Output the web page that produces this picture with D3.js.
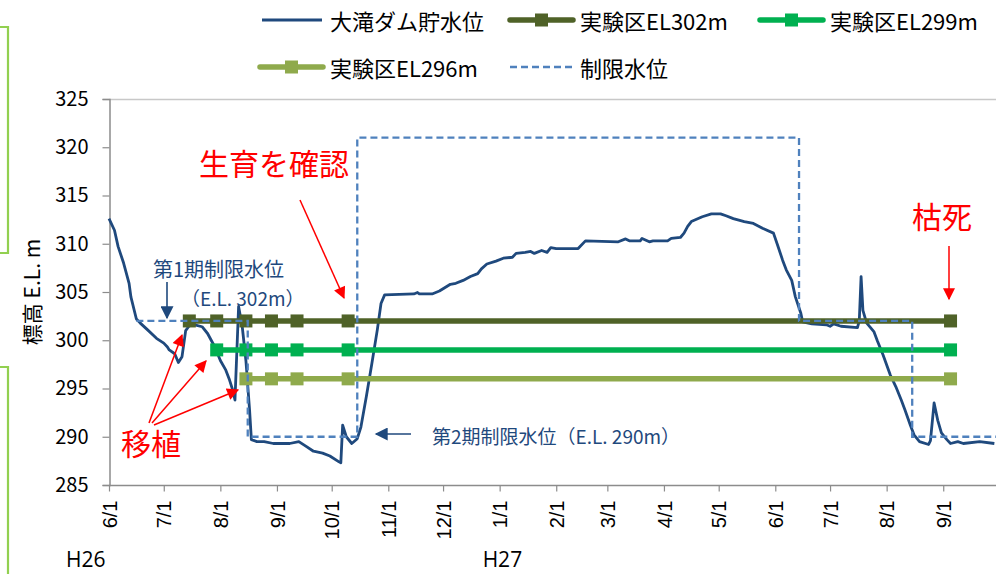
<!DOCTYPE html>
<html><head><meta charset="utf-8">
<script src="https://cdn.jsdelivr.net/npm/d3@7"></script>
<style>
html,body{margin:0;padding:0;background:#fff;}
svg{display:block;font-family:"Noto Sans CJK JP","Noto Sans",sans-serif;}
</style></head>
<body>
<svg id="chart" width="996" height="574"></svg>
<script>
// ---------- data ----------
const monthTicks = ["2014-06-01","2014-07-01","2014-08-01","2014-09-01","2014-10-01","2014-11-01","2014-12-01","2015-01-01","2015-02-01","2015-03-01","2015-04-01","2015-05-01","2015-06-01","2015-07-01","2015-08-01","2015-09-01"];
const monthLabels = ["6/1","7/1","8/1","9/1","10/1","11/1","12/1","1/1","2/1","3/1","4/1","5/1","6/1","7/1","8/1","9/1"];
const yTicks = [285,290,295,300,305,310,315,320,325];
const eraLabels = [["H26","2014-06-01"],["H27","2015-01-01"]];

const seriesNames = ["大滝ダム貯水位","実験区EL302m","実験区EL299m","実験区EL296m","制限水位"];

// 大滝ダム貯水位 [date, EL m]
const waterLevel = [
["2014-06-01",312.6],["2014-06-04",311.4],["2014-06-06",309.7],["2014-06-09",308.0],["2014-06-12",305.9],
["2014-06-13",304.5],["2014-06-16",302.2],["2014-06-18",301.8],["2014-06-22",301.1],["2014-06-27",300.2],
["2014-07-01",299.7],["2014-07-03",299.3],["2014-07-04",299.0],["2014-07-07",298.6],["2014-07-09",297.7],
["2014-07-11",298.3],["2014-07-13",301.0],["2014-07-15",301.5],["2014-07-18",301.6],["2014-07-22",301.4],
["2014-07-25",300.7],["2014-07-29",299.3],["2014-08-01",297.9],["2014-08-04",296.9],["2014-08-06",295.9],
["2014-08-08",294.7],["2014-08-09",293.8],["2014-08-11",303.5],["2014-08-13",301.4],["2014-08-15",297.9],
["2014-08-17",292.8],["2014-08-18",289.7],["2014-08-21",289.5],["2014-08-25",289.5],["2014-08-30",289.3],
["2014-09-08",289.3],["2014-09-13",289.5],["2014-09-17",289.0],["2014-09-21",288.5],["2014-09-26",288.3],
["2014-09-30",288.0],["2014-10-05",287.4],["2014-10-06",287.3],["2014-10-07",291.2],["2014-10-09",290.0],
["2014-10-12",289.3],["2014-10-15",289.8],["2014-10-17",291.0],["2014-10-20",294.2],["2014-10-23",297.6],
["2014-10-26",301.1],["2014-10-28",303.8],["2014-10-30",304.7],["2014-11-15",304.8],["2014-11-17",304.95],
["2014-11-18",304.8],["2014-11-25",304.8],["2014-11-29",305.1],["2014-12-05",305.8],["2014-12-08",305.9],
["2014-12-12",306.2],["2014-12-16",306.6],["2014-12-20",306.9],["2014-12-22",307.4],["2014-12-25",307.9],
["2014-12-30",308.2],["2015-01-03",308.5],["2015-01-08",308.6],["2015-01-10",309.0],["2015-01-15",309.1],
["2015-01-18",309.2],["2015-01-20",309.0],["2015-01-24",309.3],["2015-01-27",309.1],["2015-01-29",309.6],
["2015-02-01",309.5],["2015-02-13",309.5],["2015-02-17",310.3],["2015-03-07",310.2],["2015-03-11",310.5],
["2015-03-13",310.3],["2015-03-19",310.3],["2015-03-20",310.55],["2015-03-24",310.2],["2015-03-26",310.3],
["2015-04-03",310.3],["2015-04-05",310.55],["2015-04-10",310.65],["2015-04-12",311.1],["2015-04-14",311.8],
["2015-04-16",312.3],["2015-04-22",312.8],["2015-04-27",313.1],["2015-05-02",313.1],["2015-05-05",312.9],
["2015-05-09",312.6],["2015-05-15",312.3],["2015-05-20",312.1],["2015-05-25",311.6],["2015-05-31",311.1],
["2015-06-02",310.0],["2015-06-05",308.3],["2015-06-07",307.3],["2015-06-10",306.2],["2015-06-12",304.5],
["2015-06-15",302.8],["2015-06-16",301.9],["2015-06-21",301.7],["2015-06-29",301.6],["2015-07-01",301.45],
["2015-07-03",301.7],["2015-07-07",301.45],["2015-07-16",301.3],["2015-07-17",302.0],["2015-07-18",306.6],
["2015-07-19",303.1],["2015-07-21",301.8],["2015-07-25",300.9],["2015-07-27",299.9],["2015-07-30",298.5],
["2015-08-03",296.4],["2015-08-06",295.2],["2015-08-09",293.8],["2015-08-11",292.8],["2015-08-14",291.2],
["2015-08-16",290.2],["2015-08-19",289.5],["2015-08-24",289.2],["2015-08-25",289.6],["2015-08-27",293.5],
["2015-08-29",291.7],["2015-08-31",290.4],["2015-09-03",289.7],["2015-09-05",289.3],["2015-09-09",289.5],
["2015-09-12",289.3],["2015-09-21",289.5],["2015-09-29",289.3]
];

// 実験区 survey dates
const el302Dates = ["2014-07-15","2014-07-30","2014-08-15","2014-08-29","2014-09-12","2014-10-10","2015-09-05"];
const el299Dates = ["2014-07-30","2014-08-15","2014-08-29","2014-09-12","2014-10-10","2015-09-05"];
const el296Dates = ["2014-08-15","2014-08-29","2014-09-12","2014-10-10","2015-09-05"];
const el302Value = 302, el299Value = 299, el296Value = 296;

// 制限水位 (step)
const limitLevel = [["2014-06-16",302],["2014-08-16",290],["2014-10-15",321],["2015-06-14",302],["2015-08-15",290],["2015-10-01",290]];

// ---------- setup ----------
const parse = d3.timeParse("%Y-%m-%d");
const svg = d3.select("#chart");
const x = d3.scaleTime().domain([parse("2014-06-01"), parse("2015-10-01")]).range([109, 998]);
const y = d3.scaleLinear().domain([285, 325]).range([485, 99]);

const cWater = "#1f497d", cLimit = "#4f81bd";
const c302 = "#4f6228", c299 = "#00b050", c296 = "#8faa4c";
const axisGrey = "#8c8c8c";

// decorative green frame pieces at left edge
const deco = svg.append("g").attr("fill","none").attr("stroke","#92d050").attr("stroke-width",2.2);
deco.append("path").attr("d","M0,27H8V253H0");
deco.append("path").attr("d","M0,367H8V574");

// defs: arrowheads
const defs = svg.append("defs");
function arrowMarker(id, color, w, h){
  defs.append("marker").attr("id",id).attr("viewBox","0 0 10 10").attr("refX",9).attr("refY",5)
    .attr("markerWidth",w).attr("markerHeight",h).attr("markerUnits","userSpaceOnUse").attr("orient","auto")
    .append("path").attr("d","M0,0L10,5L0,10Z").attr("fill",color);
}
arrowMarker("arRed","#ff0000",14,12);
arrowMarker("arBlue",cWater,14,13);

// plot frame top line
svg.append("line").attr("x1",109).attr("x2",996).attr("y1",99.5).attr("y2",99.5).attr("stroke","#c8c8c8").attr("stroke-width",1.5);

// Y axis
const yAxis = svg.append("g").attr("transform","translate(109.5,0)")
  .call(d3.axisLeft(y).tickValues(yTicks).tickSize(7).tickPadding(14).tickFormat(d3.format("d")));
yAxis.select(".domain").attr("stroke",axisGrey).attr("stroke-width",1.5);
yAxis.selectAll(".tick line").attr("stroke",axisGrey).attr("stroke-width",1.2);
yAxis.selectAll(".tick text").attr("font-size",20).attr("fill","#000").attr("font-family","'Noto Sans CJK JP',sans-serif");

// X axis
const tickDates = monthTicks.map(parse);
const xAxis = svg.append("g").attr("transform","translate(0,485.5)")
  .call(d3.axisBottom(x).tickValues(tickDates).tickSize(6).tickSizeOuter(0).tickFormat((d,i)=>monthLabels[i]));
xAxis.select(".domain").attr("stroke",axisGrey).attr("stroke-width",1.5).attr("d","M109,0H998");
xAxis.selectAll(".tick line").attr("stroke",axisGrey).attr("stroke-width",1.2);
xAxis.selectAll(".tick text").attr("font-size",20).attr("fill","#000")
  .attr("transform","rotate(-90)").attr("text-anchor","end").attr("dy","0.36em").attr("x",-15).attr("y",0);

// era labels
svg.selectAll("text.era").data(eraLabels).join("text").attr("class","era")
  .attr("x",(d,i)=> i===0 ? 66 : x(parse(d[1])) - 17).attr("y",567).attr("font-size",21)
  .attr("font-family","'Open Sans',sans-serif").attr("fill","#000").text(d=>d[0]);

// Y axis title
svg.append("text").attr("transform","translate(31,292) rotate(-90)").attr("text-anchor","middle")
  .attr("dominant-baseline","central").attr("font-size",21).attr("fill","#000").text("標高 E.L. m");

// water level line
const line = d3.line().x(d=>x(parse(d[0]))).y(d=>y(d[1]));
svg.append("path").datum(waterLevel).attr("d",line).attr("fill","none").attr("stroke",cWater)
  .attr("stroke-width",2.8).attr("stroke-linejoin","round");

// experimental series
function expSeries(dates, val, color){
  const pts = dates.map(d=>[d,val]);
  const g = svg.append("g");
  g.append("path").datum(pts).attr("d",line).attr("fill","none").attr("stroke",color).attr("stroke-width",5.5);
  g.selectAll("rect").data(pts).join("rect")
    .attr("x",d=>x(parse(d[0]))-6.5).attr("y",d=>y(d[1])-6.5).attr("width",13).attr("height",13).attr("fill",color);
}
expSeries(el302Dates, el302Value, c302);
expSeries(el299Dates, el299Value, c299);
expSeries(el296Dates, el296Value, c296);

// limit level (step dashed)
const stepLine = d3.line().x(d=>x(parse(d[0]))).y(d=>y(d[1])).curve(d3.curveStepAfter);
svg.append("path").datum(limitLevel).attr("d",stepLine).attr("fill","none").attr("stroke",cLimit)
  .attr("stroke-width",2.3).attr("stroke-dasharray","7,4");

// ---------- annotations ----------
const ann = svg.append("g");
ann.append("text").attr("x",153).attr("y",268).attr("dominant-baseline","central").attr("font-size",20).attr("fill",cWater).text("第1期制限水位");
ann.append("text").attr("x",181).attr("y",297).attr("dominant-baseline","central").attr("font-size",19).attr("fill",cWater).text("（E.L. 302m）");
ann.append("line").attr("x1",167).attr("y1",282).attr("x2",167).attr("y2",318).attr("stroke",cWater).attr("stroke-width",1.6).attr("marker-end","url(#arBlue)");

ann.append("text").attr("x",432).attr("y",435).attr("dominant-baseline","central").attr("font-size",19).attr("fill",cWater).text("第2期制限水位（E.L. 290m）");
ann.append("line").attr("x1",411).attr("y1",434).attr("x2",376).attr("y2",434).attr("stroke",cWater).attr("stroke-width",1.6).attr("marker-end","url(#arBlue)");

ann.append("text").attr("x",199).attr("y",162).attr("dominant-baseline","central").attr("font-size",30).attr("fill","#ff0000").text("生育を確認");
ann.append("line").attr("x1",300).attr("y1",200).attr("x2",344).attr("y2",298).attr("stroke","#ff0000").attr("stroke-width",1.5).attr("marker-end","url(#arRed)");

ann.append("text").attr("x",912).attr("y",215).attr("dominant-baseline","central").attr("font-size",30).attr("fill","#ff0000").text("枯死");
ann.append("line").attr("x1",949).attr("y1",246).attr("x2",949).attr("y2",299).attr("stroke","#ff0000").attr("stroke-width",1.5).attr("marker-end","url(#arRed)");

ann.append("text").attr("x",121).attr("y",442).attr("dominant-baseline","central").attr("font-size",30).attr("fill","#ff0000").text("移植");
[[149,423,182,335],[152,423,206,361],[154,425,238,390]].forEach(a=>{
  ann.append("line").attr("x1",a[0]).attr("y1",a[1]).attr("x2",a[2]).attr("y2",a[3]).attr("stroke","#ff0000").attr("stroke-width",1.5).attr("marker-end","url(#arRed)");
});

// ---------- legend ----------
const legendItems = [
  {name:seriesNames[0], type:"line", color:cWater, x:262, y:20},
  {name:seriesNames[1], type:"marker", color:c302, x:510, y:20},
  {name:seriesNames[2], type:"marker", color:c299, x:760, y:20},
  {name:seriesNames[3], type:"marker", color:c296, x:260, y:67},
  {name:seriesNames[4], type:"dash", color:cLimit, x:510, y:67}
];
const lg = svg.append("g");
legendItems.forEach(it=>{
  const g = lg.append("g");
  if(it.type==="line"){
    g.append("line").attr("x1",it.x).attr("x2",it.x+60).attr("y1",it.y).attr("y2",it.y).attr("stroke",it.color).attr("stroke-width",3);
  } else if(it.type==="marker"){
    g.append("line").attr("x1",it.x).attr("x2",it.x+63).attr("y1",it.y).attr("y2",it.y).attr("stroke",it.color).attr("stroke-width",5.5).attr("stroke-linecap","round");
    g.append("rect").attr("x",it.x+31.5-6.5).attr("y",it.y-6.5).attr("width",13).attr("height",13).attr("fill",it.color);
  } else {
    g.append("line").attr("x1",it.x).attr("x2",it.x+63).attr("y1",it.y).attr("y2",it.y).attr("stroke",it.color).attr("stroke-width",2.3).attr("stroke-dasharray","7,4");
  }
  g.append("text").attr("x",it.x + (it.type==="line"?68:70)).attr("y",it.y).attr("dominant-baseline","central")
    .attr("font-size",22).attr("fill","#000").text(it.name);
});
</script>
</body></html>
